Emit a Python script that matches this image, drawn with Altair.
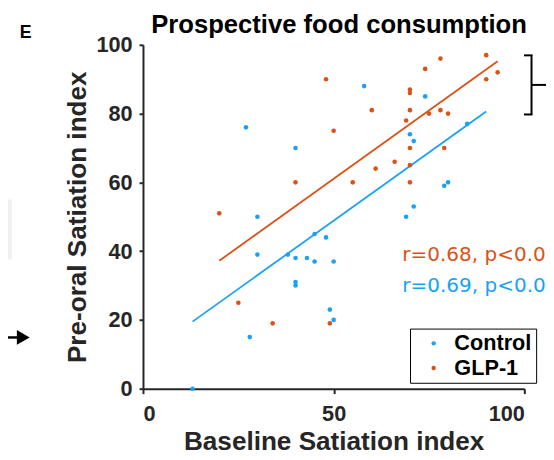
import altair as alt
import pandas as pd

# ---- data ----
ctrl_x = [30, 45, 48, 30, 38, 40, 43, 45, 50, 40, 40, 28, 49, 50, 13, 27, 40, 58, 74, 85, 70, 71, 79, 80, 71, 69]
ctrl_y = [50, 45, 44, 39, 39, 38, 38, 37, 37, 31, 30, 15, 23, 20, 0, 76, 70, 88, 85, 77, 74, 72, 59, 60, 53, 50]
glp_x = [20, 25, 34, 49, 48, 50, 40, 90, 78, 74, 93, 90, 70, 70, 60, 70, 75, 78, 80, 69, 70, 79, 66, 61, 55, 70, 70]
glp_y = [51, 25, 19, 19, 90, 75, 60, 97, 96, 93, 92, 90, 87, 86, 81, 81, 80, 81, 80, 78, 70, 70, 66, 64, 60, 65, 60]

fit_group = ["Control", "Control", "GLP-1", "GLP-1"]
fit_x = [13, 90, 20, 93]
fit_y = [19.5, 80.6, 37.2, 95.2]

stat_group = ["GLP-1", "Control"]
stat_text = ["r=0.68, p<0.001", "r=0.69, p<0.001"]
stat_x = [68, 68]
stat_y = [37.1, 28.0]

groups = ["Control", "GLP-1"]
title_text = "Prospective food consumption"
x_title = "Baseline Satiation index"
y_title = "Pre-oral Satiation index"

BLUE = "#18A2F6"
ORANGE = "#D95319"
FONT = "Liberation Sans"

pts = pd.DataFrame({
    "x": ctrl_x + glp_x,
    "y": ctrl_y + glp_y,
    "group": ["Control"] * len(ctrl_x) + ["GLP-1"] * len(glp_x),
})
fits = pd.DataFrame({"x": fit_x, "y": fit_y, "group": fit_group})
stats = pd.DataFrame({"x": stat_x, "y": stat_y, "group": stat_group, "label": stat_text})

xs = alt.Scale(domain=[0, 100], nice=False)
ys = alt.Scale(domain=[0, 100], nice=False)


def cscale():
    return alt.Scale(domain=groups, range=[BLUE, ORANGE])


xaxis = alt.Axis(values=[0, 50, 100], title=x_title, grid=False,
                 tickSize=5, labelPadding=10, titlePadding=5)
yaxis = alt.Axis(values=[0, 20, 40, 60, 80, 100], title=y_title, grid=False,
                 tickSize=4, labelPadding=7, titlePadding=5)

points = alt.Chart(pts).mark_circle(size=22, opacity=1).encode(
    x=alt.X("x:Q", scale=xs, axis=xaxis),
    y=alt.Y("y:Q", scale=ys, axis=yaxis),
    color=alt.Color("group:N", scale=cscale(), legend=alt.Legend(
        title=None, orient="none", legendX=271, legendY=288,
        strokeColor="black", fillColor="white", padding=4,
        labelFont=FONT, labelFontSize=22, labelFontWeight="bold", labelColor="black",
        symbolSize=20, symbolOffset=9, labelOffset=10, rowPadding=3,
        symbolType="circle")),
)

lines = alt.Chart(fits).mark_line(strokeWidth=1.8).encode(
    x=alt.X("x:Q", scale=xs),
    y=alt.Y("y:Q", scale=ys),
    color=alt.Color("group:N", scale=cscale(), legend=None),
    detail="group:N",
)

texts = alt.Chart(stats).mark_text(align="left", baseline="alphabetic", font="DejaVu Sans",
                                   fontSize=20.3).encode(
    x=alt.X("x:Q", scale=xs),
    y=alt.Y("y:Q", scale=ys),
    text="label:N",
    color=alt.Color("group:N", scale=cscale(), legend=None),
)

one = alt.Data(values=[{}])
deco_col = "black"

# chart title (drawn as text so that its place does not depend on the other decorations)
title = alt.Chart(one).mark_text(text=title_text, align="center", baseline="alphabetic", font=FONT,
                                 fontSize=26, fontWeight="bold", color="black").encode(
    x=alt.value(199), y=alt.value(-12))

# bracket at right
br_v = alt.Chart(one).mark_rule(color=deco_col, strokeWidth=2).encode(
    x=alt.value(394.3), y=alt.value(10.7), y2=alt.value(70.7))
br_t = alt.Chart(one).mark_rule(color=deco_col, strokeWidth=2).encode(
    x=alt.value(386.7), x2=alt.value(395.3), y=alt.value(10.7))
br_b = alt.Chart(one).mark_rule(color=deco_col, strokeWidth=2).encode(
    x=alt.value(386.7), x2=alt.value(395.3), y=alt.value(70.7))
br_m = alt.Chart(one).mark_rule(color=deco_col, strokeWidth=2).encode(
    x=alt.value(394.3), x2=alt.value(409), y=alt.value(40.7))

# arrow at left
arr_line = alt.Chart(one).mark_rule(color=deco_col, strokeWidth=2.5).encode(
    x=alt.value(-150), x2=alt.value(-124), y=alt.value(297))
arr_head = alt.Chart(one).mark_point(shape="triangle-right", filled=True, color=deco_col,
                                     opacity=1, size=225).encode(
    x=alt.value(-121.5), y=alt.value(297))

# grey box at left
grey = alt.Chart(one).mark_rect(color="#F0F0F0").encode(
    x=alt.value(-150), x2=alt.value(-133), y=alt.value(157), y2=alt.value(218))

# panel letter
letter = alt.Chart(one).mark_text(text="E", align="left", baseline="alphabetic", font=FONT,
                                  fontSize=18, fontWeight="bold", color="black").encode(
    x=alt.value(-125), y=alt.value(-7))

chart = alt.layer(grey, lines, points, texts, title, br_v, br_t, br_b, br_m,
                  arr_line, arr_head, letter).resolve_scale(
    color="independent"
).properties(
    width=387, height=349,
    padding={"left": 137, "top": 34, "right": 22, "bottom": 69},
    autosize=alt.AutoSizeParams(type="none"),
).configure_view(stroke=None).configure_axis(
    labelFont=FONT, labelFontSize=22, labelFontWeight="bold", labelColor="#262626",
    titleFont=FONT, titleFontSize=26.5, titleFontWeight="bold", titleColor="#262626",
    domainColor="#262626", domainWidth=2, tickColor="#262626", tickWidth=2,
)

chart.save("out.html", embed_options={"renderer": "svg", "actions": False})
